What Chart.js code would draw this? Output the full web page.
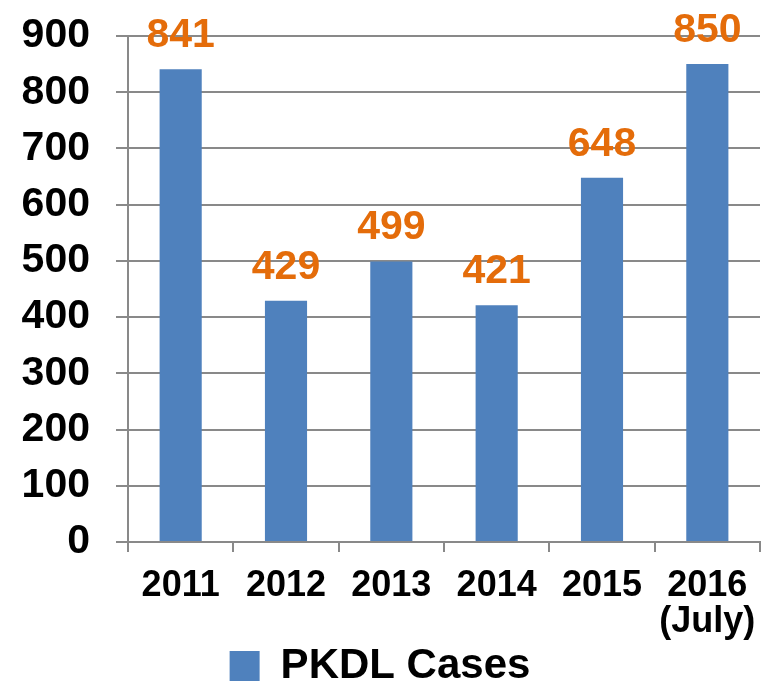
<!DOCTYPE html>
<html>
<head>
<meta charset="utf-8">
<script src="https://cdn.jsdelivr.net/npm/chart.js@4.4.0/dist/chart.umd.min.js"></script>
<style>
  html, body { margin: 0; padding: 0; background: #fff; }
  #wrap { width: 763px; height: 685px; position: relative; }
</style>
</head>
<body>
<div id="wrap"><canvas id="pkdlChart"></canvas></div>
<script>
  const years = ['2011', '2012', '2013', '2014', '2015', ['2016', '(July)']];
  const pkdlCases = [841, 429, 499, 421, 648, 850];
  const yTicks = [0, 100, 200, 300, 400, 500, 600, 700, 800, 900];

  const FONT = "'Liberation Sans', Arial, sans-serif";
  const GRID = '#898989';

  // draws the orange value above every bar
  const valueLabels = {
    id: 'valueLabels',
    afterDatasetsDraw(chart) {
      const ctx = chart.ctx;
      const meta = chart.getDatasetMeta(0);
      ctx.save();
      ctx.fillStyle = '#E46C0A';
      ctx.font = 'bold 41px ' + FONT;
      ctx.textAlign = 'center';
      ctx.textBaseline = 'alphabetic';
      meta.data.forEach((bar, i) => {
        ctx.fillText(chart.data.datasets[0].data[i], bar.x, bar.y - 22);
      });
      ctx.restore();
    }
  };

  const ctx = document.getElementById('pkdlChart').getContext('2d');
  const chart = new Chart(ctx, {
    type: 'bar',
    data: {
      labels: years,
      datasets: [{
        label: 'PKDL Cases',
        data: pkdlCases,
        backgroundColor: '#4F81BD',
        categoryPercentage: 1,
        barPercentage: 0.4
      }]
    },
    options: {
      responsive: true,
      maintainAspectRatio: false,
      animation: false,
      layout: { padding: { top: 36, right: 3, left: 0, bottom: -12 } },
      scales: {
        x: {
          afterFit: (scale) => { scale.height -= 11; scale.paddingLeft = 0; scale.paddingRight = 0; },
          grid: {
            display: true,
            drawOnChartArea: false,
            drawTicks: true,
            tickLength: 10,
            color: GRID,
            lineWidth: 2,
            offset: true
          },
          border: { display: true, color: GRID, width: 2 },
          ticks: {
            color: '#000',
            padding: 16,
            maxRotation: 0,
            font: { family: FONT, size: 36, weight: 'bold', lineHeight: 1.0 }
          }
        },
        y: {
          min: 0,
          max: 900,
          afterBuildTicks: (scale) => { scale.ticks = yTicks.map(v => ({ value: v })); },
          afterFit: (scale) => { scale.width = 128; scale.paddingTop = 0; scale.paddingBottom = 0; },
          grid: {
            color: GRID,
            lineWidth: 2,
            drawTicks: true,
            tickLength: 12
          },
          border: { display: true, color: GRID, width: 2 },
          ticks: {
            color: '#000',
            padding: 26,
            autoSkip: false,
            font: { family: FONT, size: 41, weight: 'bold' }
          }
        }
      },
      plugins: {
        legend: {
          position: 'bottom',
          labels: {
            color: '#000',
            boxWidth: 30,
            boxHeight: 30,
            padding: 0,
            font: { family: FONT, size: 42, weight: 'bold', lineHeight: 1.0 }
          }
        },
        tooltip: { enabled: false }
      }
    },
    plugins: [valueLabels]
  });
</script>
</body>
</html>
